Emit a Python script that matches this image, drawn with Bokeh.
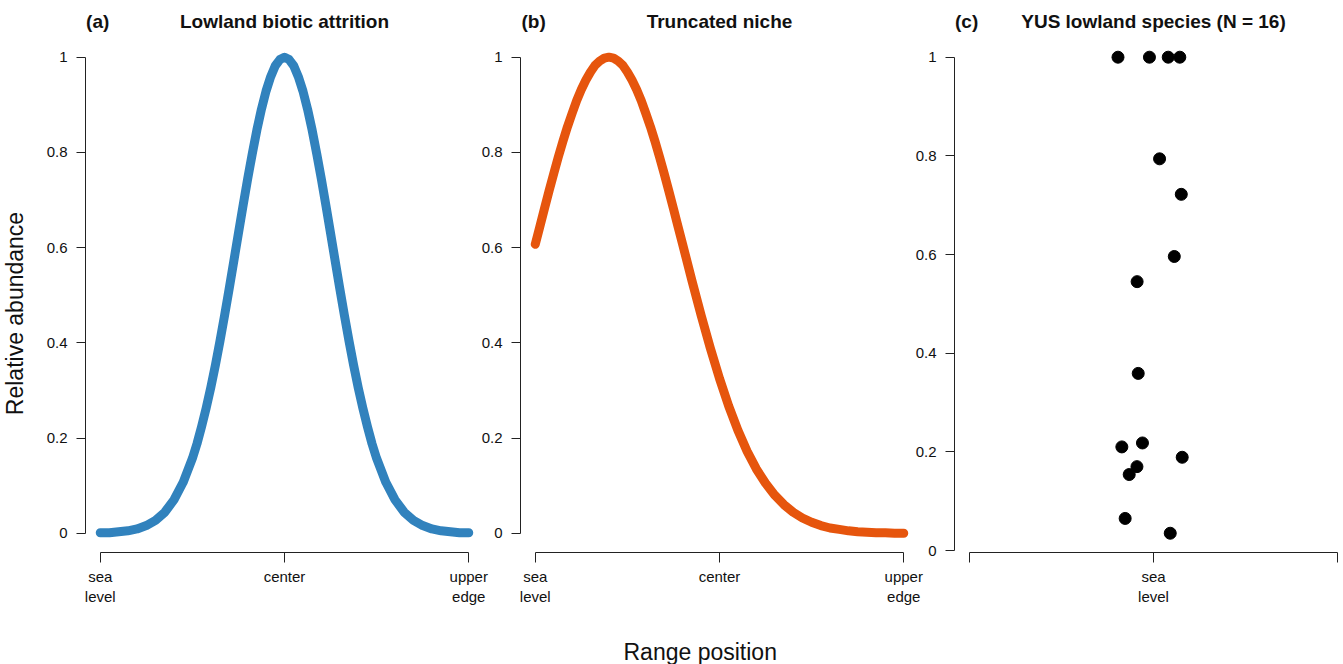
import math
from bokeh.plotting import figure
from bokeh.layouts import row, column
from bokeh.models import Range1d, FixedTicker, Label
from bokeh.embed import file_html
from bokeh.resources import INLINE

# ---------------- data ----------------
attr_pos = [-1.0, -0.95, -0.9, -0.85, -0.8, -0.75, -0.7, -0.65, -0.6, -0.55,
            -0.5, -0.475, -0.45, -0.425, -0.4, -0.375, -0.35, -0.325, -0.3, -0.275,
            -0.25, -0.225, -0.2, -0.175, -0.15, -0.125, -0.1, -0.075, -0.05, -0.025,
            0.0, 0.025, 0.05, 0.075, 0.1, 0.125, 0.15, 0.175, 0.2, 0.225,
            0.25, 0.275, 0.3, 0.325, 0.35, 0.375, 0.4, 0.425, 0.45, 0.475,
            0.5, 0.55, 0.6, 0.65, 0.7, 0.75, 0.8, 0.85, 0.9, 0.95, 1.0]
attrition = [0.001, 0.001, 0.003, 0.005, 0.009, 0.016, 0.027, 0.044, 0.070, 0.107,
             0.157, 0.188, 0.224, 0.263, 0.306, 0.353, 0.404, 0.458, 0.514, 0.572,
             0.630, 0.688, 0.744, 0.797, 0.847, 0.891, 0.929, 0.959, 0.982, 0.995,
             1.000, 0.995, 0.982, 0.959, 0.929, 0.891, 0.847, 0.797, 0.744, 0.688,
             0.630, 0.572, 0.514, 0.458, 0.404, 0.353, 0.306, 0.263, 0.224, 0.188,
             0.157, 0.107, 0.070, 0.044, 0.027, 0.016, 0.009, 0.005, 0.003, 0.001, 0.001]

trunc_pos = [-1.0, -0.975, -0.95, -0.925, -0.9, -0.875, -0.85, -0.825, -0.8, -0.775,
             -0.75, -0.725, -0.7, -0.675, -0.65, -0.625, -0.6, -0.575, -0.55, -0.525,
             -0.5, -0.475, -0.45, -0.425, -0.4, -0.375, -0.35, -0.325, -0.3, -0.275,
             -0.25, -0.225, -0.2, -0.15, -0.1, -0.05, 0.0, 0.05, 0.1, 0.15,
             0.2, 0.25, 0.3, 0.35, 0.4, 0.45, 0.5, 0.55, 0.6, 0.65,
             0.7, 0.75, 0.8, 0.85, 0.9, 0.95, 1.0]
truncated = [0.607, 0.644, 0.682, 0.719, 0.755, 0.790, 0.823, 0.854, 0.882, 0.909,
             0.932, 0.952, 0.969, 0.983, 0.992, 0.998, 1.000, 0.998, 0.992, 0.983,
             0.969, 0.952, 0.932, 0.909, 0.882, 0.854, 0.823, 0.790, 0.755, 0.719,
             0.682, 0.644, 0.607, 0.531, 0.458, 0.389, 0.325, 0.267, 0.216, 0.172,
             0.135, 0.105, 0.080, 0.060, 0.044, 0.032, 0.023, 0.016, 0.011, 0.008,
             0.005, 0.003, 0.002, 0.001, 0.001, 0.000, 0.000]

species_x = [-0.193, -0.022, 0.080, 0.143, 0.033, 0.151, 0.113, -0.089,
             -0.083, -0.172, -0.060, 0.156, -0.090, -0.132, -0.154, 0.091]
species_y = [1.000, 1.000, 1.000, 1.000, 0.794, 0.722, 0.596, 0.545,
             0.359, 0.210, 0.218, 0.189, 0.170, 0.154, 0.065, 0.035]

x_ticks = [-1, 0, 1]
x_tick_labels = ["sea\nlevel", "center", "upper\nedge"]
c_tick_labels = ["", "sea\nlevel", ""]
y_ticks = [0, 0.2, 0.4, 0.6, 0.8, 1]
y_tick_labels = ["0", "0.2", "0.4", "0.6", "0.8", "1"]

titles = ["Lowland biotic attrition", "Truncated niche", "YUS lowland species (N = 16)"]
tags = ["(a)", "(b)", "(c)"]
y_title = "Relative abundance"
x_title = "Range position"

BLUE = "#3182BD"
ORANGE = "#E6550D"
FONT = "Liberation Sans"
TXT = "#111111"
AX = "#222222"

ROW_H = 620
FRAME_TOP = 5
FRAME_H = 547
BORDER_L = 46


def make_panel(xr, yr, fw, br, xlabels):
    p = figure(title=None, x_range=Range1d(*xr), y_range=Range1d(*yr),
               frame_width=fw, frame_height=FRAME_H,
               min_border_left=BORDER_L, min_border_right=br,
               min_border_top=FRAME_TOP, min_border_bottom=ROW_H - FRAME_TOP - FRAME_H,
               output_backend="svg", toolbar_location=None)
    p.grid.visible = False
    p.outline_line_color = None
    p.background_fill_alpha = 0
    p.border_fill_alpha = 0
    for ax in (p.xaxis[0], p.yaxis[0]):
        ax.axis_line_color = AX
        ax.axis_line_width = 1
        ax.major_tick_line_color = AX
        ax.major_tick_in = 0
        ax.minor_tick_in = 0
        ax.minor_tick_out = 0
        ax.major_label_text_font = FONT
        ax.major_label_text_font_size = "15px"
        ax.major_label_text_color = TXT
    xa = p.xaxis[0]
    xa.ticker = FixedTicker(ticks=x_ticks)
    xa.bounds = (-1, 1)
    xa.major_tick_out = 10
    xa.major_label_standoff = 5
    xa.major_label_overrides = {t: l for t, l in zip(x_ticks, xlabels)}
    ya = p.yaxis[0]
    ya.ticker = FixedTicker(ticks=y_ticks)
    ya.bounds = (0, 1)
    ya.major_tick_out = 9
    ya.major_label_standoff = 9
    ya.major_label_overrides = {t: l for t, l in zip(y_ticks, y_tick_labels)}
    return p


def add_titles(p, tag, title, tag_x, y_base):
    p.add_layout(Label(x=tag_x, y=y_base, text=tag, text_font=FONT,
                       text_font_style="bold", text_font_size="19px",
                       text_color=TXT, text_align="left", text_baseline="alphabetic"))
    p.add_layout(Label(x=0, y=y_base, text=title, text_font=FONT,
                       text_font_style="bold", text_font_size="19px",
                       text_color=TXT, text_align="center", text_baseline="alphabetic"))


def make_strip(w, h):
    s = figure(title=None, x_range=Range1d(0, w), y_range=Range1d(0, h),
               frame_width=w, frame_height=h,
               min_border_left=0, min_border_right=0, min_border_top=0, min_border_bottom=0,
               x_axis_location=None, y_axis_location=None,
               output_backend="svg", toolbar_location=None)
    s.grid.visible = False
    s.outline_line_color = None
    s.background_fill_alpha = 0
    s.border_fill_alpha = 0
    return s


# left strip holding the shared y-axis title
ps = make_strip(39, ROW_H)
ps.add_layout(Label(x=14, y=ROW_H - 308, text=y_title, angle=math.pi / 2,
                    text_font=FONT, text_font_size="23px", text_color=TXT,
                    text_align="center", text_baseline="alphabetic"))

# panel (a)
pa = make_panel((-1.08, 1.08), (-0.0405, 1.1086), 398, 7, x_tick_labels)
pa.line(attr_pos, attrition, line_color=BLUE, line_width=9,
        line_cap="round", line_join="round")
add_titles(pa, tags[0], titles[0], -1.077, 1.075)

# panel (b)
pb = make_panel((-1.08, 1.08), (-0.0405, 1.1086), 398, 10, x_tick_labels)
pb.margin = (0, 0, 0, -16)
pb.line(trunc_pos, truncated, line_color=ORANGE, line_width=9,
        line_cap="round", line_join="round")
add_titles(pb, tags[1], titles[1], -1.0748, 1.075)

# panel (c)
pc = make_panel((-1.0815, 1.0326), (-0.00405, 1.1048), 389, 0, c_tick_labels)
pc.margin = (0, 0, 0, -20)
pc.scatter(species_x, species_y, size=12, color="black")
add_titles(pc, tags[2], titles[2], -1.0788, 1.0724)

# bottom strip holding the shared x-axis title
pbot = make_strip(1343, 44)
pbot.add_layout(Label(x=699.7, y=13, text=x_title,
                      text_font=FONT, text_font_size="23px", text_color=TXT,
                      text_align="center", text_baseline="alphabetic"))

layout = column(row(ps, pa, pb, pc), pbot)
open("out.html", "w").write(file_html(layout, INLINE))
